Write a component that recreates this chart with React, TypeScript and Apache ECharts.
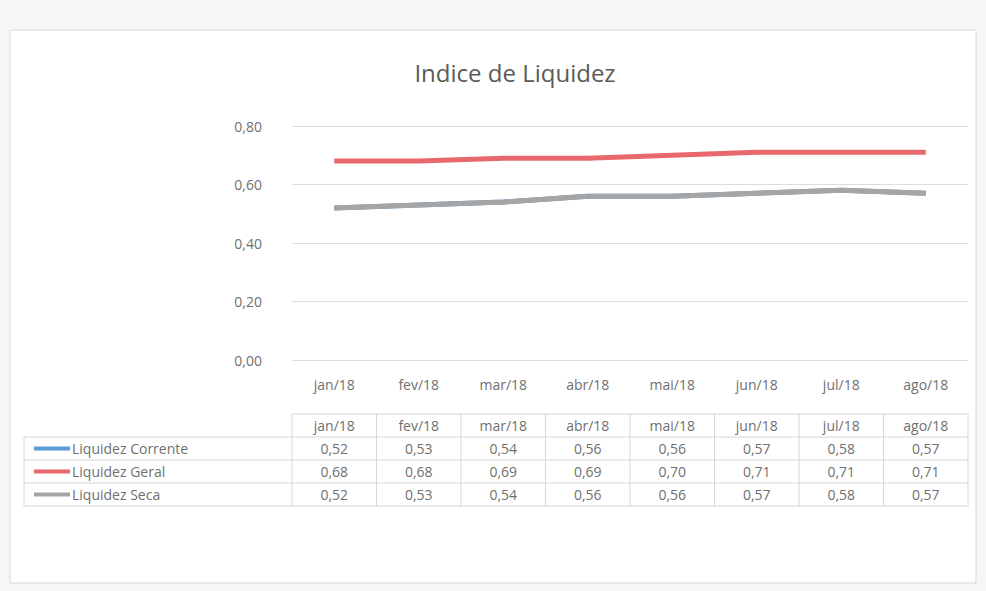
import React, { useEffect, useRef } from "react";
import * as echarts from "echarts";

const categories = ["jan/18", "fev/18", "mar/18", "abr/18", "mai/18", "jun/18", "jul/18", "ago/18"];
const liquidezCorrente = [0.52, 0.53, 0.54, 0.56, 0.56, 0.57, 0.58, 0.57];
const liquidezGeral = [0.68, 0.68, 0.69, 0.69, 0.7, 0.71, 0.71, 0.71];
const liquidezSeca = [0.52, 0.53, 0.54, 0.56, 0.56, 0.57, 0.58, 0.57];
const seriesNames = ["Liquidez Corrente", "Liquidez Geral", "Liquidez Seca"];
const seriesColors = ["#5b9bd5", "#e8686b", "#a5a5a5"];
const titleText = "Indice de Liquidez";

const FONT = "'Open Sans', 'Noto Sans', sans-serif";
const TEXT = "#707070";
const fmt = (v: number) => v.toFixed(2).replace(".", ",");

export default function App() {
  const ref = useRef<HTMLDivElement>(null);
  useEffect(() => {
    document.body.style.margin = "0";
    if (!ref.current) return;
    const chart = echarts.init(ref.current, null, { renderer: "svg" });
    const allSeries = [liquidezCorrente, liquidezGeral, liquidezSeca];
    chart.setOption({
      animation: false,
      backgroundColor: "#f6f6f4",
      title: {
        text: titleText,
        left: 510,
        top: 55,
        textAlign: "center",
        textStyle: { fontFamily: FONT, fontSize: 24, fontWeight: "normal", color: "#5a5a5a" },
      },
      grid: { left: 292, right: 18, top: 126, bottom: 231 },
      xAxis: {
        type: "category",
        data: categories,
        boundaryGap: true,
        axisLine: { show: false },
        axisTick: { show: false },
        axisLabel: { fontFamily: FONT, fontSize: 14, color: TEXT, margin: 17 },
      },
      yAxis: {
        type: "value",
        min: 0,
        max: 0.8,
        interval: 0.2,
        axisLine: { show: false },
        axisTick: { show: false },
        splitLine: { lineStyle: { color: "#dcdcdc", width: 1 } },
        axisLabel: { fontFamily: FONT, fontSize: 14, color: TEXT, margin: 30, formatter: (v: number) => fmt(v) },
      },
      series: allSeries.map((d, i) => ({
        name: seriesNames[i],
        type: "line",
        data: d,
        symbol: "none",
        lineStyle: { color: seriesColors[i], width: 5 },
        itemStyle: { color: seriesColors[i] },
      })),
    });

    const xs = categories.map((_, i) => chart.convertToPixel({ xAxisIndex: 0 }, i) as number);
    const band = xs[1] - xs[0];
    const left = xs[0] - band / 2;
    const right = xs[xs.length - 1] + band / 2;
    const rowTop = 414;
    const rowH = 23;
    const tableLeft = 24;
    const line = "#d6d6d6";
    const g: any[] = [];
    g.push({
      type: "rect",
      z: -10,
      shape: { x: 10, y: 30, width: 966, height: 553 },
      style: { fill: "#ffffff", stroke: "#d8d8d8", lineWidth: 1 },
    });
    g.push({ type: "line", shape: { x1: left, y1: rowTop, x2: right, y2: rowTop }, style: { stroke: line, lineWidth: 1 } });
    for (let r = 1; r <= 4; r++) {
      const y = rowTop + r * rowH;
      g.push({ type: "line", shape: { x1: tableLeft, y1: y, x2: right, y2: y }, style: { stroke: line, lineWidth: 1 } });
    }
    g.push({ type: "line", shape: { x1: tableLeft, y1: rowTop + rowH, x2: tableLeft, y2: rowTop + 4 * rowH }, style: { stroke: line, lineWidth: 1 } });
    for (let i = 0; i <= categories.length; i++) {
      const x = left + i * band;
      g.push({ type: "line", shape: { x1: x, y1: rowTop, x2: x, y2: rowTop + 4 * rowH }, style: { stroke: line, lineWidth: 1 } });
    }
    categories.forEach((c, i) => {
      g.push({
        type: "text",
        x: xs[i],
        y: rowTop + rowH / 2,
        style: { text: c, fill: TEXT, font: `14px ${FONT}`, align: "center", verticalAlign: "middle" },
      });
    });
    allSeries.forEach((d, r) => {
      const yc = rowTop + (r + 1) * rowH + rowH / 2;
      g.push({ type: "line", shape: { x1: 34, y1: yc, x2: 70, y2: yc }, style: { stroke: seriesColors[r], lineWidth: 4 } });
      g.push({
        type: "text",
        x: 72,
        y: yc,
        style: { text: seriesNames[r], fill: TEXT, font: `14px ${FONT}`, align: "left", verticalAlign: "middle" },
      });
      d.forEach((v, i) => {
        g.push({
          type: "text",
          x: xs[i],
          y: yc,
          style: { text: fmt(v), fill: TEXT, font: `14px ${FONT}`, align: "center", verticalAlign: "middle" },
        });
      });
    });
    chart.setOption({ graphic: g });
    return () => chart.dispose();
  }, []);
  return <div ref={ref} style={{ width: 986, height: 591 }} />;
}
